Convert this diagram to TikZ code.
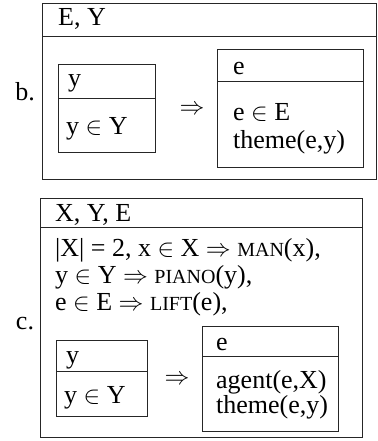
\documentclass[tikz,border=0pt]{standalone}
\usepackage{fontspec}
\setmainfont{Liberation Serif}
% small capitals faked with reduced upper-case letters
\newcommand{\fsc}[1]{{\fontsize{20}{20}\selectfont #1}}
\tikzset{
  frame/.style={draw=black!85, line width=0.9pt},
  txt/.style={anchor=base west, inner sep=0pt, font=\fontsize{26}{26}\selectfont},
  mid/.style={anchor=base, inner sep=0pt, font=\fontsize{26}{26}\selectfont}
}
\begin{document}
\begin{tikzpicture}[x=1pt, y=-1pt]
\useasboundingbox (0,0) rectangle (377,441);

% ---- b. ----
\draw[frame] (42,3) rectangle (376,179);
\draw[frame] (42,36) -- (376,36);
\node[txt] (bhead) at (58,26) {E, Y};
\node[mid] (blabel) at (25,101) {b.};
% antecedent box
\draw[frame] (58,64) rectangle (155,152);
\draw[frame] (58,98) -- (155,98);
\node[txt] (byref) at (68,87) {y};
\node[txt] (bycond) at (66,134) {y $\in$ Y};
\node[mid] (bimpl) at (192,114) {$\Rightarrow$};
% consequent box
\draw[frame] (217,49) rectangle (363,167);
\draw[frame] (217,81) -- (363,81);
\node[txt] (beref) at (233,75) {e};
\node[txt] (becond1) at (233,121) {e $\in$ E};
\node[txt] (becond2) at (233,148) {theme(e,y)};

% ---- c. ----
\draw[frame] (40,198) rectangle (362,437);
\draw[frame] (40,227) -- (362,227);
\node[txt] (chead) at (55,221) {X, Y, E};
\node[mid] (clabel) at (25,329) {c.};
\node[txt] (cline1) at (55,256) {|X| = 2, x $\in$ X $\Rightarrow$ \fsc{MAN}(x),};
\node[txt] (cline2) at (55,283) {y $\in$ Y $\Rightarrow$ \fsc{PIANO}(y),};
\node[txt] (cline3) at (55,310) {e $\in$ E $\Rightarrow$ \fsc{LIFT}(e),};
% antecedent box
\draw[frame] (56,340) rectangle (147,416);
\draw[frame] (56,371) -- (147,371);
\node[txt] (cyref) at (66,363) {y};
\node[txt] (cycond) at (64,403) {y $\in$ Y};
\node[mid] (cimpl) at (177,384) {$\Rightarrow$};
% consequent box
\draw[frame] (202,326) rectangle (338,431);
\draw[frame] (202,356) -- (338,356);
\node[txt] (ceref) at (216,350) {e};
\node[txt] (cecond1) at (216,388) {agent(e,X)};
\node[txt] (cecond2) at (216,413) {theme(e,y)};
\end{tikzpicture}
\end{document}
